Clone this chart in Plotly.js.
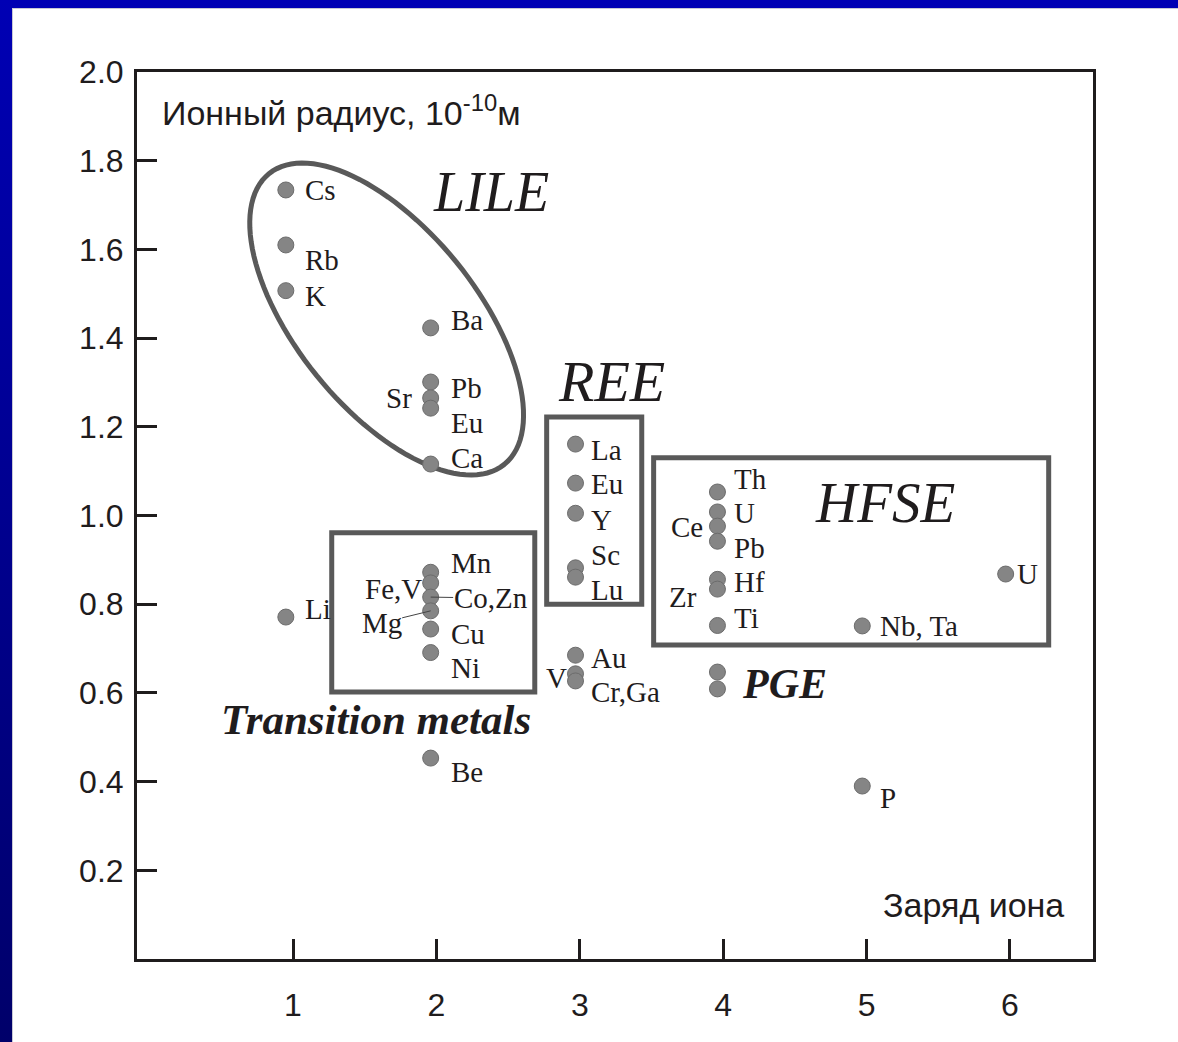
<!DOCTYPE html>
<html>
<head>
<meta charset="utf-8">
<script src="https://cdn.plot.ly/plotly-3.0.1.min.js"></script>
<style>
  html, body { margin: 0; padding: 0; width: 1178px; height: 1042px; overflow: hidden;
    background: linear-gradient(to bottom, #0000b4, #00006a); }
  #panel { position: absolute; left: 12px; top: 8px; right: 0; bottom: 0; background: #ffffff;
    border-left: 1px solid #c8c8d4; border-top: 1px solid #c8c8d4; }
  #chart { position: absolute; left: 0; top: 0; width: 1178px; height: 1042px; }
</style>
</head>
<body>
<div id="panel"></div>
<div id="chart"></div>
<script>
// Ionic radius (10^-10 m) against ionic charge for trace elements
const elements = ['Cs', 'Rb', 'K', 'Li', 'Ba', 'Pb', 'Sr', 'Eu', 'Ca', 'Mn', 'Fe,V', 'Co,Zn', 'Mg', 'Cu', 'Ni', 'Be',
  'La', 'Eu', 'Y', 'Sc', 'Lu', 'Au', 'V', 'Cr,Ga', 'Th', 'U', 'Ce', 'Pb', 'Hf', 'Zr', 'Ti', 'PGE', 'PGE',
  'Nb, Ta', 'U', 'P'];
const ionCharge = [0.95, 0.95, 0.95, 0.95, 1.96, 1.96, 1.96, 1.96, 1.96, 1.96, 1.96, 1.96, 1.96, 1.96, 1.96, 1.96,
  2.97, 2.97, 2.97, 2.97, 2.97, 2.97, 2.97, 2.97, 3.96, 3.96, 3.96, 3.96, 3.96, 3.96, 3.96, 3.96, 3.96,
  4.97, 5.97, 4.97];
const ionRadius = [1.734, 1.610, 1.507, 0.771, 1.423, 1.301, 1.265, 1.242, 1.116, 0.872, 0.848, 0.816, 0.785, 0.744, 0.691, 0.453,
  1.161, 1.073, 1.005, 0.882, 0.861, 0.685, 0.643, 0.627, 1.053, 1.008, 0.976, 0.942, 0.856, 0.834, 0.752, 0.647, 0.609,
  0.751, 0.868, 0.390];

const xTickVals = [1, 2, 3, 4, 5, 6];
const yTickVals = [0.2, 0.4, 0.6, 0.8, 1.0, 1.2, 1.4, 1.6, 1.8, 2.0];
const yTickText = ['0.2', '0.4', '0.6', '0.8', '1.0', '1.2', '1.4', '1.6', '1.8', '2.0'];

// Group outlines and group names
const groupBoxes = [
  { name: 'Transition metals', x0: 1.270, x1: 2.686, y0: 0.602, y1: 0.961 },
  { name: 'REE', x0: 2.769, x1: 3.432, y0: 0.800, y1: 1.222 },
  { name: 'HFSE', x0: 3.515, x1: 6.270, y0: 0.708, y1: 1.130 }
];

// ---- layout geometry ----
const W = 1178, H = 1042;
const margin = { l: 137, r: 85, t: 72, b: 83 };
const xRange = [-0.088, 6.579];
const yRange = [0, 2.0];
const xScale = (W - margin.l - margin.r) / (xRange[1] - xRange[0]);
const yScale = (H - margin.t - margin.b) / (yRange[1] - yRange[0]);

// label placement per point: [anchor, xshift, yshift] or leader ['lead', ax, ay]
const labelPlacement = [
  ['left', 18, 0], ['left', 18, -15], ['left', 18, -5], ['left', 18, 8],
  ['left', 19, 8], ['left', 19, -6], ['right', -18, 0], ['left', 19, -15], ['left', 19, 6],
  ['left', 19, 9], ['right', -8, -6], ['lead', 60, 1], ['lead', -49, 12], ['left', 19, -5], ['left', 19, -15], ['left', 19, -14],
  ['left', 14, -6], ['left', 14, -1], ['left', 14, -7], ['left', 14, 13], ['left', 14, -13], ['left', 14, -3],
  ['right', -8, -4], ['left', 14, -11],
  ['left', 16, 13], ['left', 16, -1], ['right', -13, -1], ['left', 16, -7], ['left', 16, -3], ['right', -19, -8], ['left', 16, 7],
  null, null,
  ['left', 17, 0], ['left', 10, 0], ['left', 17, -12]
];

const serif = 'Liberation Serif, Times New Roman, serif';
const sans = 'Liberation Sans, Arial, sans-serif';
const ink = '#1f1c1d';
const outline = '#595959';
const labelSize = 29;

const annotations = [];
elements.forEach((el, i) => {
  const p = labelPlacement[i];
  if (!p) return;
  if (p[0] === 'lead') {
    annotations.push({
      x: ionCharge[i], y: ionRadius[i], xref: 'x', yref: 'y', text: el,
      showarrow: true, arrowhead: 0, arrowwidth: 1, arrowcolor: '#444', standoff: 0,
      ax: p[1], ay: p[2], font: { family: serif, size: labelSize, color: ink }, borderpad: 0
    });
  } else {
    annotations.push({
      x: ionCharge[i], y: ionRadius[i], xref: 'x', yref: 'y', text: el, showarrow: false,
      xanchor: p[0], yanchor: 'middle', xshift: p[1], yshift: p[2],
      font: { family: serif, size: labelSize, color: ink }, borderpad: 0
    });
  }
});

// group names
annotations.push(
  { x: 2.379, y: 1.729, xref: 'x', yref: 'y', text: '<i>LILE</i>', showarrow: false,
    font: { family: serif, size: 56, color: ink } },
  { x: 3.222, y: 1.303, xref: 'x', yref: 'y', text: '<i>REE</i>', showarrow: false,
    font: { family: serif, size: 58, color: ink } },
  { x: 5.126, y: 1.030, xref: 'x', yref: 'y', text: '<i>HFSE</i>', showarrow: false,
    font: { family: serif, size: 57, color: ink } },
  { x: 4.115, y: 0.620, xref: 'x', yref: 'y', text: '<b><i>PGE</i></b>', showarrow: false, xanchor: 'left',
    font: { family: serif, size: 42, color: ink } },
  { x: 1.577, y: 0.541, xref: 'x', yref: 'y', text: '<b><i>Transition metals</i></b>', showarrow: false,
    font: { family: serif, size: 43, color: ink } },
  // axis captions inside the frame
  { x: 0.024, y: 0.957, xref: 'paper', yref: 'paper', xanchor: 'left', yanchor: 'middle', showarrow: false,
    text: 'Ионный радиус, 10<sup>-10</sup>м', font: { family: sans, size: 34, color: ink } },
  { x: 0.972, y: 0.061, xref: 'paper', yref: 'paper', xanchor: 'right', yanchor: 'middle', showarrow: false,
    text: 'Заряд иона', font: { family: sans, size: 34, color: ink } }
);

// rotated ellipse around the LILE group (semi-axes in screen pixels)
const lileEllipse = { cx: 1.653, cy: 1.443, a: 187, b: 90, angleDeg: 51 };
function ellipsePath(e) {
  const th = e.angleDeg * Math.PI / 180, n = 120;
  let d = '';
  for (let k = 0; k <= n; k++) {
    const t = 2 * Math.PI * k / n;
    const dx = e.a * Math.cos(t) * Math.cos(th) - e.b * Math.sin(t) * Math.sin(th);
    const dy = e.a * Math.cos(t) * Math.sin(th) + e.b * Math.sin(t) * Math.cos(th);
    const x = e.cx + dx / xScale, y = e.cy - dy / yScale;
    d += (k === 0 ? 'M' : 'L') + x.toFixed(4) + ',' + y.toFixed(4);
  }
  return d + 'Z';
}

const shapes = groupBoxes.map(b => ({
  type: 'rect', xref: 'x', yref: 'y', x0: b.x0, x1: b.x1, y0: b.y0, y1: b.y1,
  line: { color: outline, width: 5 }, layer: 'below'
}));
shapes.push({ type: 'path', xref: 'x', yref: 'y', path: ellipsePath(lileEllipse),
  line: { color: outline, width: 5 }, layer: 'below' });

const trace = {
  type: 'scatter', mode: 'markers', x: ionCharge, y: ionRadius, text: elements,
  marker: { size: 16, color: '#858585', line: { color: '#6c6c6c', width: 1 } },
  hoverinfo: 'text', cliponaxis: false
};

const axisCommon = {
  ticks: 'inside', ticklen: 20, tickwidth: 3, tickcolor: ink,
  showline: true, linewidth: 3, linecolor: ink, mirror: true,
  showgrid: false, zeroline: false,
  tickfont: { family: sans, size: 32, color: ink }
};

const layout = {
  width: W, height: H, margin: margin,
  paper_bgcolor: 'rgba(0,0,0,0)', plot_bgcolor: 'rgba(0,0,0,0)',
  showlegend: false,
  xaxis: Object.assign({}, axisCommon, { range: xRange, tickvals: xTickVals, ticklabelstandoff: 16 }),
  yaxis: Object.assign({}, axisCommon, { range: yRange, tickvals: yTickVals, ticktext: yTickText, ticklabelstandoff: 4 }),
  shapes: shapes,
  annotations: annotations
};

Plotly.newPlot('chart', [trace], layout, { displayModeBar: false, staticPlot: true });
</script>
</body>
</html>
